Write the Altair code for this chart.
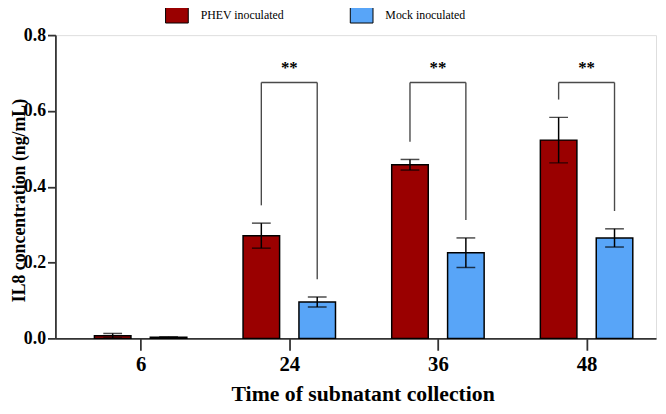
import altair as alt
import pandas as pd

times = ["6", "24", "36", "48"]
groups = ["PHEV inoculated", "Mock inoculated"]
colors = ["#9A0000", "#58A5F8"]
phev_mean = [0.007, 0.271, 0.458, 0.523]
phev_err = [0.006, 0.033, 0.014, 0.060]
mock_mean = [0.003, 0.096, 0.226, 0.265]
mock_err = [0.001, 0.013, 0.039, 0.024]
sig_times = ["24", "36", "48"]
sig_labels = ["**", "**", "**"]
bracket_top = 0.675
star_y = 0.70

rows = []
for i, t in enumerate(times):
    rows.append(dict(time=t, idx=i, group=groups[0], mean=phev_mean[i], err=phev_err[i]))
    rows.append(dict(time=t, idx=i, group=groups[1], mean=mock_mean[i], err=mock_err[i]))
df = pd.DataFrame(rows)

sig = pd.DataFrame(dict(time=sig_times, label=sig_labels,
                        idx=[times.index(t) for t in sig_times]))

OFF = 0.188
pos_expr = f"datum.idx + (datum.group == '{groups[0]}' ? {-OFF} : {OFF})"
label_expr = "[" + ",".join(f"'{t}'" for t in times) + "][datum.value]"

FONT = "Liberation Serif"
AX = "#333333"

xscale = alt.Scale(domain=[-0.54, 3.434], nice=False, zero=False)
yscale = alt.Scale(domain=[0, 0.8], nice=False)

xaxis = alt.Axis(values=[0, 1, 2, 3], labelExpr=label_expr, grid=False,
                 title="Time of subnatant collection", labelFont=FONT,
                 labelFontSize=21, labelFontWeight="bold", labelColor="black",
                 titleFont=FONT, titleFontSize=22, titleFontWeight="bold",
                 titleColor="black", titleX=311, titleY=63,
                 titleBaseline="alphabetic", titleAnchor="middle",
                 tickSize=12, tickWidth=1.8, tickColor=AX, domainColor=AX,
                 domainWidth=1.8, labelPadding=4)
yaxis = alt.Axis(values=[0, 0.2, 0.4, 0.6, 0.8], format=".1f", grid=False,
                 title="IL8 concentration (ng/mL)", labelFont=FONT,
                 labelFontSize=18, labelFontWeight="bold", labelColor="black",
                 titleFont=FONT, titleFontSize=18, titleFontWeight="bold",
                 titleColor="black", titleX=-31, titleY=167, titleAngle=270,
                 titleAnchor="middle", titleBaseline="alphabetic",
                 tickSize=8, tickWidth=1.8, tickColor=AX, domainColor=AX,
                 domainWidth=1.8, labelPadding=2)


def X(field):
    return alt.X(field, scale=xscale, axis=xaxis)


def Y(field):
    return alt.Y(field, scale=yscale, axis=yaxis)


base = alt.Chart(df).transform_calculate(xpos=pos_expr)

bars = base.mark_bar(size=37, stroke="black", strokeWidth=1.5).encode(
    x=X("xpos:Q"),
    y=Y("mean:Q"),
    color=alt.Color("group:N",
                    scale=alt.Scale(domain=groups, range=colors),
                    legend=alt.Legend(orient="none", legendX=111, legendY=-33,
                                      direction="horizontal", title=None,
                                      symbolType="M-1,-0.74H1V0.74H-1Z",
                                      symbolSize=529, symbolStrokeColor="black",
                                      symbolStrokeWidth=1, symbolOpacity=1,
                                      labelFont=FONT, labelFontSize=12,
                                      labelColor="black", labelOffset=12,
                                      columnPadding=64, padding=0)),
)

err = base.transform_calculate(
    lo="datum.mean - datum.err", hi="datum.mean + datum.err"
)
err_rule = err.mark_rule(color="black", strokeWidth=1.5).encode(
    x=X("xpos:Q"), y=Y("lo:Q"), y2="hi:Q"
)
caps = err.transform_fold(["lo", "hi"], as_=["end", "v"]).mark_tick(
    orient="horizontal", size=19, thickness=1.5, color="black"
).encode(x=X("xpos:Q"), y=Y("v:Q"))

legs = base.transform_filter(
    alt.FieldOneOfPredicate(field="time", oneOf=sig_times)
).transform_calculate(
    legbot="datum.mean + datum.err + 0.047", top=str(bracket_top)
).mark_rule(color="#4a4a4a", strokeWidth=1.4).encode(
    x=X("xpos:Q"), y=Y("legbot:Q"), y2="top:Q"
)

tops = alt.Chart(sig).transform_calculate(
    xl=f"datum.idx - {OFF}", xr=f"datum.idx + {OFF}", top=str(bracket_top)
).mark_rule(color="#4a4a4a", strokeWidth=1.4).encode(
    x=X("xl:Q"), x2="xr:Q", y=Y("top:Q")
)

stars = alt.Chart(sig).transform_calculate(sy=str(star_y)).mark_text(
    font=FONT, fontSize=17, fontWeight="bold", color="black",
    baseline="alphabetic", align="center"
).encode(x=X("idx:Q"), y=Y("sy:Q"), text="label:N")

chart = alt.layer(bars, legs, tops, err_rule, caps, stars).properties(
    width=608, height=307,
    autosize=alt.AutoSizeParams(type="none"),
    padding={"left": 48, "top": 25, "right": 2, "bottom": 66},
).configure_view(stroke=None).configure(background="white")

chart.save("out.html", embed_options={"renderer": "svg", "actions": False})
